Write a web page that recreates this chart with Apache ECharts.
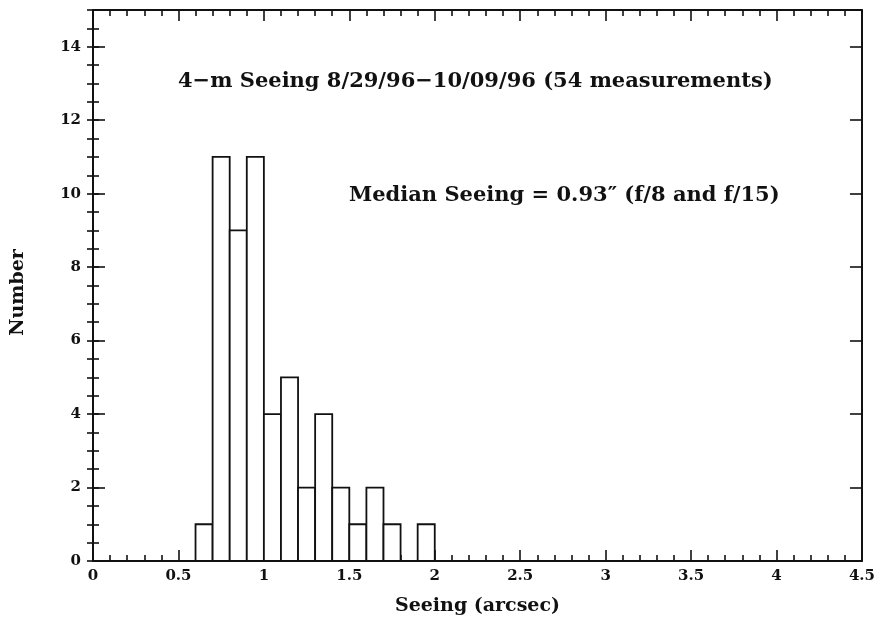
<!DOCTYPE html>
<html>
<head>
<meta charset="UTF-8">
<title>4-m Seeing</title>
<script src="https://cdn.jsdelivr.net/npm/echarts@6/dist/echarts.min.js"></script>
<style>
  html, body { margin: 0; padding: 0; background: #fff; }
  #main { width: 878px; height: 621px; }
</style>
</head>
<body>
<div id="main"></div>
<script type="text/javascript">
// histogram bins (seeing, arcsec) and counts
var binStart = [0.6, 0.7, 0.8, 0.9, 1.0, 1.1, 1.2, 1.3, 1.4, 1.5, 1.6, 1.7, 1.8, 1.9];
var binEnd   = [0.7, 0.8, 0.9, 1.0, 1.1, 1.2, 1.3, 1.4, 1.5, 1.6, 1.7, 1.8, 1.9, 2.0];
var counts   = [1, 11, 9, 11, 4, 5, 2, 4, 2, 1, 2, 1, 0, 1];

var xTicks = [0, 0.5, 1, 1.5, 2, 2.5, 3, 3.5, 4, 4.5];
var yTicks = [0, 2, 4, 6, 8, 10, 12, 14];

var titleText = '4\u2212m Seeing 8/29/96\u221210/09/96 (54 measurements)';
var medianText = 'Median Seeing = 0.93\u2033 (f/8 and f/15)';

var font = 'DejaVu Serif';
var ink = '#111';

var data = [];
for (var i = 0; i < counts.length; i++) {
    data.push([binStart[i], binEnd[i], counts[i]]);
}

// label formatter: only show the listed tick values
function tickLabel(list) {
    return function (v) {
        for (var k = 0; k < list.length; k++) {
            if (Math.abs(list[k] - v) < 1e-9) return String(v);
        }
        return '';
    };
}

var myChart = echarts.init(document.getElementById('main'));

var xBase = {
    type: 'value', min: 0, max: 4.5, interval: 0.5,
    splitLine: { show: false },
    axisLine: { show: true, onZero: false, lineStyle: { color: ink, width: 2 } },
    axisTick: { show: true, inside: true, length: 11, lineStyle: { color: ink, width: 1.6 } },
    minorTick: { show: true, splitNumber: 5, length: 6, lineStyle: { color: ink, width: 1.6 } }
};

var option = {
    animation: false,
    backgroundColor: '#fff',
    grid: { left: 93, right: 15, top: 10, bottom: 57 },
    xAxis: [
        Object.assign({}, xBase, {
            position: 'bottom',
            name: 'Seeing (arcsec)',
            nameLocation: 'middle',
            nameGap: 36,
            nameTextStyle: { fontFamily: font, fontWeight: 'bold', fontSize: 19, color: ink },
            axisLabel: {
                margin: 8, fontFamily: font, fontWeight: 'bold', fontSize: 15, color: ink,
                formatter: tickLabel(xTicks)
            }
        }),
        Object.assign({}, xBase, {
            position: 'top',
            axisLabel: { show: false }
        })
    ],
    yAxis: [
        {
            type: 'value', min: 0, max: 15, interval: 2, position: 'left',
            name: 'Number',
            nameLocation: 'middle',
            nameGap: 65,
            nameTextStyle: {
                fontFamily: font, fontWeight: 'bold', fontSize: 19, color: ink,
                padding: [0, 14, 0, 0]
            },
            splitLine: { show: false },
            axisLine: { show: true, onZero: false, lineStyle: { color: ink, width: 2 } },
            axisTick: { show: true, inside: true, length: 12, lineStyle: { color: ink, width: 1.6 } },
            axisLabel: {
                margin: 12, fontFamily: font, fontWeight: 'bold', fontSize: 15, color: ink,
                showMaxLabel: false, formatter: tickLabel(yTicks)
            }
        },
        {
            type: 'value', min: 0, max: 15, interval: 0.5, position: 'left',
            splitLine: { show: false },
            axisLine: { show: false },
            axisTick: { show: true, inside: true, length: 6, lineStyle: { color: ink, width: 1.6 } },
            axisLabel: { show: false }
        },
        {
            type: 'value', min: 0, max: 15, interval: 2, position: 'right',
            splitLine: { show: false },
            axisLine: { show: true, onZero: false, lineStyle: { color: ink, width: 2 } },
            axisTick: { show: true, inside: true, length: 12, lineStyle: { color: ink, width: 1.6 } },
            axisLabel: { show: false }
        },
        {
            type: 'value', min: 0, max: 15, interval: 0.5, position: 'right',
            splitLine: { show: false },
            axisLine: { show: false },
            axisTick: { show: true, inside: true, length: 6, lineStyle: { color: ink, width: 1.6 } },
            axisLabel: { show: false }
        }
    ],
    series: [{
        type: 'custom',
        xAxisIndex: 0,
        yAxisIndex: 0,
        data: data,
        renderItem: function (params, api) {
            var n = api.value(2);
            if (!n) return null;
            var p0 = api.coord([api.value(0), 0]);
            var p1 = api.coord([api.value(1), n]);
            return {
                type: 'rect',
                shape: { x: p0[0], y: p1[1], width: p1[0] - p0[0], height: p0[1] - p1[1] },
                style: { fill: '#fff', stroke: ink, lineWidth: 1.8 }
            };
        }
    }],
    graphic: {
        elements: [
            {
                type: 'text', left: 178, top: 71,
                style: { text: titleText, font: 'bold 21px "DejaVu Serif"', fill: ink }
            },
            {
                type: 'text', left: 349, top: 185,
                style: { text: medianText, font: 'bold 21px "DejaVu Serif"', fill: ink }
            }
        ]
    }
};

myChart.setOption(option);
</script>
</body>
</html>
